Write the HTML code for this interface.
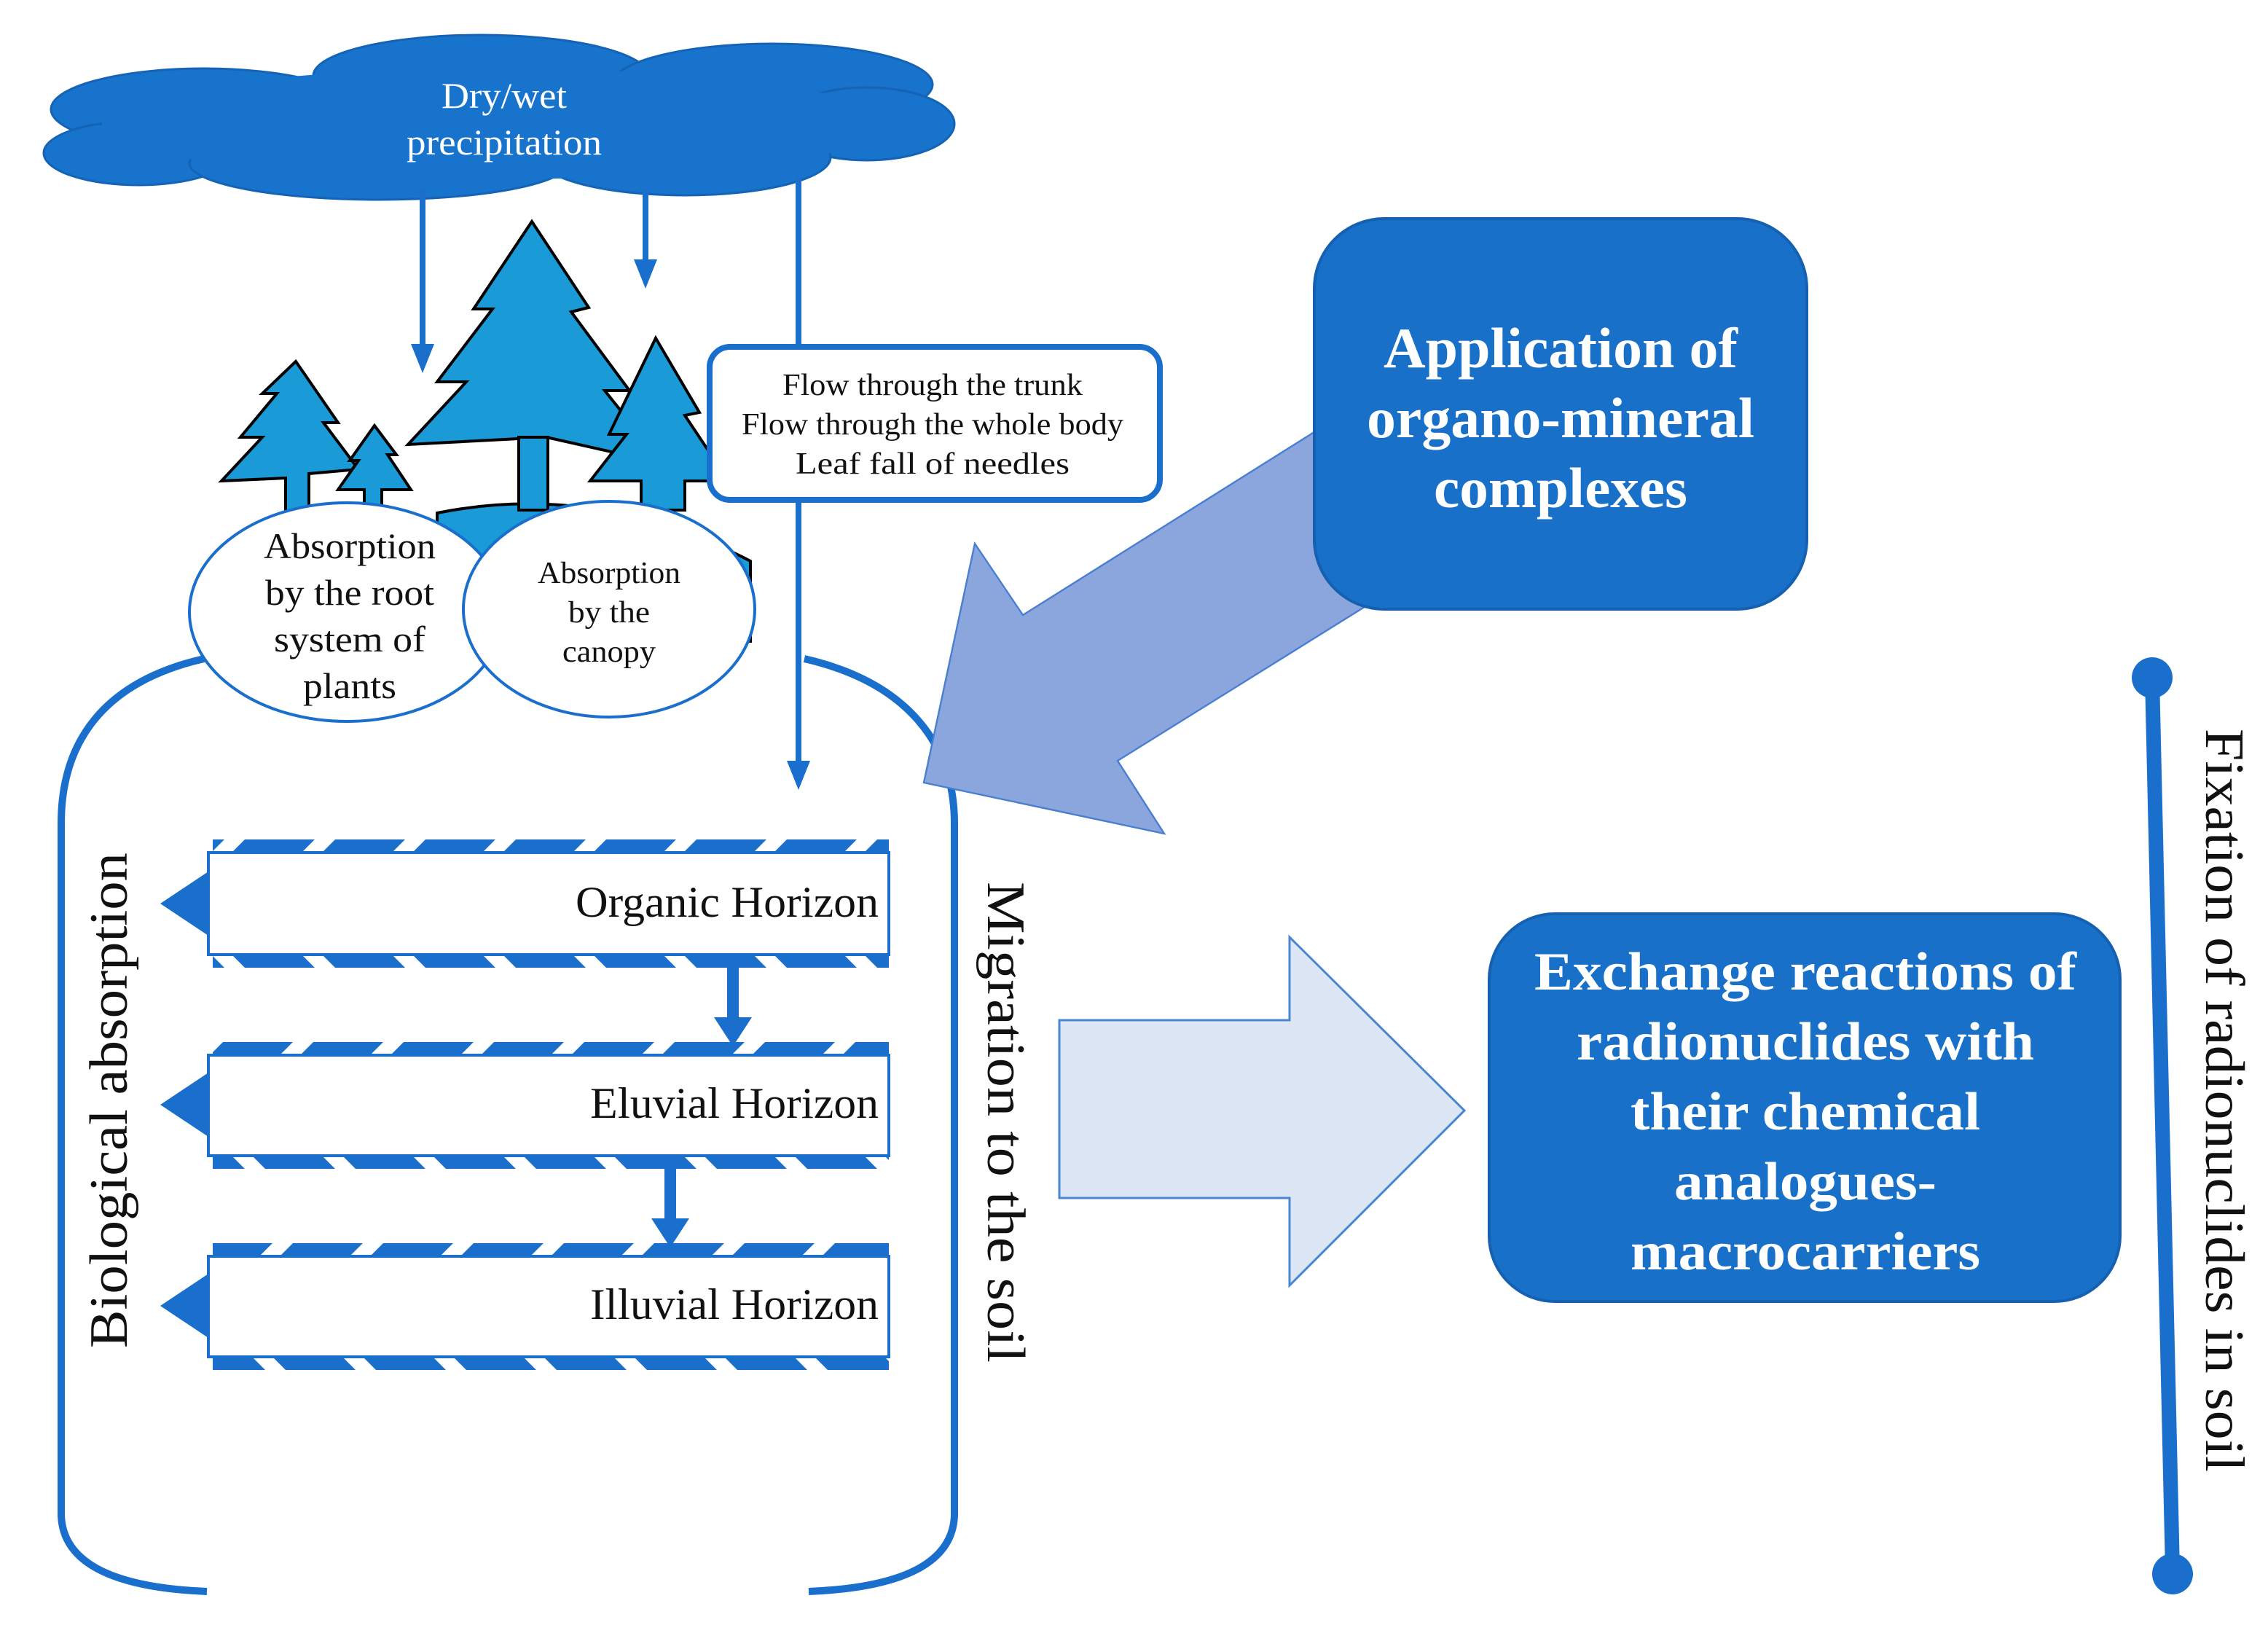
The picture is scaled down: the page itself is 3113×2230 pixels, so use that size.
<!DOCTYPE html>
<html><head><meta charset="utf-8"><style>html,body{margin:0;padding:0;background:#fff}svg{display:block}</style></head>
<body>
<svg width="3113" height="2230" viewBox="0 0 1556.5 1115" xmlns="http://www.w3.org/2000/svg" font-family="Liberation Serif, serif">
<defs>
<pattern id="hT" width="62" height="20" patternUnits="userSpaceOnUse" patternTransform="skewX(-45)"><rect x="0" y="0" width="48" height="20" fill="#1a6fcc"/></pattern>
<pattern id="hB" width="62" height="20" patternUnits="userSpaceOnUse" patternTransform="skewX(45)"><rect x="0" y="0" width="48" height="20" fill="#1a6fcc"/></pattern>
</defs>
<!-- cloud -->
<g fill="#1873cc" stroke="#1463b5" stroke-width="1.5">
<ellipse cx="140" cy="75" rx="105" ry="28"/>
<ellipse cx="330" cy="52" rx="115" ry="28"/>
<ellipse cx="530" cy="58" rx="110" ry="28"/>
<ellipse cx="595" cy="85" rx="60" ry="25"/>
<ellipse cx="95" cy="105" rx="65" ry="22"/>
<ellipse cx="260" cy="112" rx="130" ry="25"/>
<ellipse cx="470" cy="108" rx="100" ry="26"/>
</g>
<ellipse cx="340" cy="85" rx="270" ry="38" fill="#1873cc"/>
<text x="346" y="74" font-size="25" fill="#fff" text-anchor="middle" textLength="86" lengthAdjust="spacingAndGlyphs">Dry/wet</text>
<text x="346" y="106" font-size="25" fill="#fff" text-anchor="middle" textLength="134" lengthAdjust="spacingAndGlyphs">precipitation</text>
<!-- arrows from cloud -->
<g stroke="#1a6fcc" stroke-width="4" fill="none">
<line x1="290" y1="130" x2="290" y2="240"/>
<line x1="443" y1="130" x2="443" y2="182"/>
<line x1="548" y1="122" x2="548" y2="525"/>
</g>
<g fill="#1a6fcc">
<polygon points="282,236 298,236 290,256"/>
<polygon points="435,178 451,178 443,198"/>
<polygon points="540,522 556,522 548,542"/>
</g>
<!-- trees -->
<g fill="#1a9ad6" stroke="#000" stroke-width="2">
<path d="M300,352 Q410,330 515,385 L515,440 L300,440 Z"/>
<path d="M365,152 L404,211 L392,214 L432,268 L415,268 L455,318 L375,300 L280,305 L320,262 L300,262 L338,212 L325,212 Z"/>
<rect x="356" y="300" width="20" height="50"/>
<path d="M450,232 L480,283 L470,285 L500,330 L470,330 L470,350 L440,350 L440,330 L405,330 L430,298 L418,298 Z"/>
<path d="M203,248 L232,290 L222,290 L246,322 L212,325 L212,360 L196,360 L196,328 L152,330 L180,300 L165,300 L190,270 L180,270 Z"/>
<path d="M257,292 L272,312 L266,312 L282,336 L262,336 L262,360 L250,360 L250,336 L232,336 L246,316 L240,316 Z"/>
</g>
<!-- flow box -->
<rect x="487" y="238" width="309" height="105" rx="14" fill="#fff" stroke="#1a6fcc" stroke-width="4"/>
<g font-size="21" text-anchor="middle" fill="#111">
<text x="640" y="271" textLength="206" lengthAdjust="spacingAndGlyphs">Flow through the trunk</text>
<text x="640" y="298" textLength="262" lengthAdjust="spacingAndGlyphs">Flow through the whole body</text>
<text x="640" y="325" textLength="188" lengthAdjust="spacingAndGlyphs">Leaf fall of needles</text>
</g>
<!-- ellipses -->
<ellipse cx="238" cy="420" rx="108" ry="75" fill="#fff" stroke="#1a6fcc" stroke-width="2"/>
<ellipse cx="418" cy="418" rx="100" ry="74" fill="#fff" stroke="#1a6fcc" stroke-width="2"/>
<g font-size="25" text-anchor="middle" fill="#111">
<text x="240" y="383" textLength="118" lengthAdjust="spacingAndGlyphs">Absorption</text>
<text x="240" y="415" textLength="116" lengthAdjust="spacingAndGlyphs">by the root</text>
<text x="240" y="447" textLength="104" lengthAdjust="spacingAndGlyphs">system of</text>
<text x="240" y="479" textLength="64" lengthAdjust="spacingAndGlyphs">plants</text>
</g>
<g font-size="21" text-anchor="middle" fill="#111">
<text x="418" y="400" textLength="98" lengthAdjust="spacingAndGlyphs">Absorption</text>
<text x="418" y="427" textLength="56" lengthAdjust="spacingAndGlyphs">by the</text>
<text x="418" y="454" textLength="64" lengthAdjust="spacingAndGlyphs">canopy</text>
</g>
<!-- brackets -->
<g stroke="#1a6fcc" stroke-width="5" fill="none">
<path d="M140,452 C70,468 42,510 42,565 L42,1040 Q44,1088 142,1092"/>
<path d="M552,452 C622,468 655,510 655,565 L655,1040 Q653,1088 555,1092"/>
</g>
<!-- diagonal arrow -->
<polygon points="634,537 669,373 702,422 960,260 995,380 767,522 799,572" fill="#8aa6dc" stroke="#4a7fd0" stroke-width="1.2"/>
<!-- application box -->
<rect x="902" y="150" width="338" height="268" rx="48" fill="#1870c8" stroke="#1560b0" stroke-width="2"/>
<g font-size="39" font-weight="bold" fill="#fff" text-anchor="middle">
<text x="1071" y="252" textLength="243" lengthAdjust="spacingAndGlyphs">Application of</text>
<text x="1071" y="300" textLength="266" lengthAdjust="spacingAndGlyphs">organo-mineral</text>
<text x="1071" y="348" textLength="174" lengthAdjust="spacingAndGlyphs">complexes</text>
</g>
<!-- horizons -->
<g>
<rect x="120" y="576" width="490" height="9" fill="url(#hT)"/>
<rect x="120" y="655" width="490" height="9" fill="url(#hB)"/>
<rect x="120" y="715" width="490" height="9" fill="url(#hT)"/>
<rect x="120" y="793" width="490" height="9" fill="url(#hB)"/>
<rect x="120" y="853" width="490" height="9" fill="url(#hT)"/>
<rect x="120" y="931" width="490" height="9" fill="url(#hB)"/>
<rect x="110" y="570" width="36" height="380" fill="#fff"/>
</g>
<g fill="#fff" stroke="#1a6fcc" stroke-width="2">
<rect x="143" y="585" width="467" height="70"/>
<rect x="143" y="724" width="467" height="69"/>
<rect x="143" y="862" width="467" height="69"/>
</g>
<g fill="#1a6fcc">
<polygon points="110,620 143,598 143,642"/>
<polygon points="110,758 143,736 143,780"/>
<polygon points="110,896 143,874 143,918"/>
<rect x="499" y="664" width="8" height="36"/>
<polygon points="490,698 516,698 503,718"/>
<rect x="456" y="802" width="8" height="36"/>
<polygon points="447,836 473,836 460,856"/>
</g>
<g font-size="30" fill="#111" text-anchor="end">
<text x="603" y="629" textLength="208" lengthAdjust="spacingAndGlyphs">Organic Horizon</text>
<text x="603" y="767" textLength="198" lengthAdjust="spacingAndGlyphs">Eluvial Horizon</text>
<text x="603" y="905" textLength="198" lengthAdjust="spacingAndGlyphs">Illuvial Horizon</text>
</g>
<text transform="translate(87,755) rotate(-90)" font-size="37" text-anchor="middle" fill="#111" textLength="340" lengthAdjust="spacingAndGlyphs">Biological absorption</text>
<text transform="translate(678,770) rotate(90)" font-size="37" text-anchor="middle" fill="#111" textLength="330" lengthAdjust="spacingAndGlyphs">Migration to the soil</text>
<!-- right arrow -->
<polygon points="727,700 885,700 885,643 1005,762 885,882 885,822 727,822" fill="#dce6f5" stroke="#4a86d0" stroke-width="1.5"/>
<!-- exchange box -->
<rect x="1022" y="627" width="433" height="266" rx="45" fill="#1870c8" stroke="#1560b0" stroke-width="2"/>
<g font-size="37" font-weight="bold" fill="#fff" text-anchor="middle">
<text x="1239" y="679" textLength="372" lengthAdjust="spacingAndGlyphs">Exchange reactions of</text>
<text x="1239" y="727" textLength="314" lengthAdjust="spacingAndGlyphs">radionuclides with</text>
<text x="1239" y="775" textLength="240" lengthAdjust="spacingAndGlyphs">their chemical</text>
<text x="1239" y="823" textLength="180" lengthAdjust="spacingAndGlyphs">analogues-</text>
<text x="1239" y="871" textLength="240" lengthAdjust="spacingAndGlyphs">macrocarriers</text>
</g>
<!-- fixation -->
<line x1="1477" y1="465" x2="1491" y2="1078" stroke="#1a6fcc" stroke-width="10"/>
<circle cx="1477" cy="465" r="14" fill="#1a6fcc"/>
<circle cx="1491" cy="1080" r="14" fill="#1a6fcc"/>
<text transform="translate(1514,755) rotate(90)" font-size="38" text-anchor="middle" fill="#111" textLength="510" lengthAdjust="spacingAndGlyphs">Fixation of radionuclides in soil</text>
</svg>
</body></html>
